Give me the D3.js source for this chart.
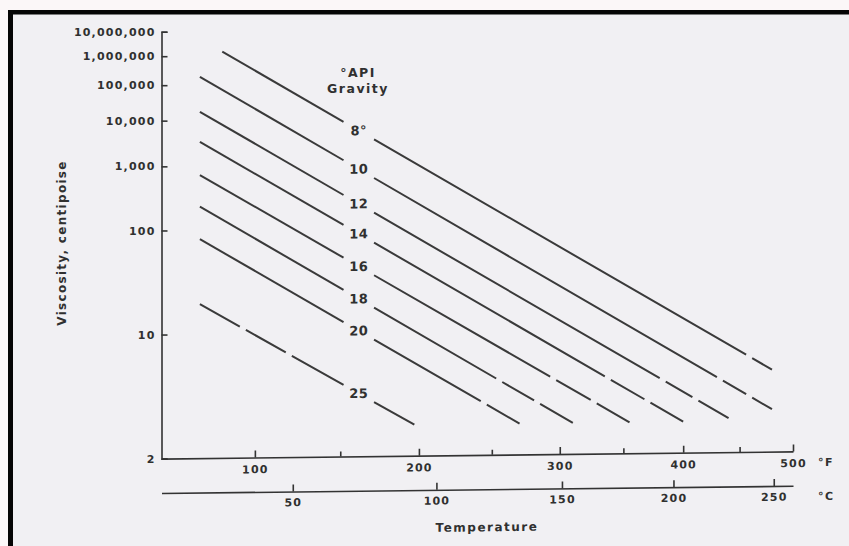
<!DOCTYPE html>
<html>
<head>
<meta charset="utf-8">
<script src="https://cdn.jsdelivr.net/npm/d3@7"></script>
<style>
  body { margin: 0; background: #fbf7f8; }
  svg { display: block; }
  text { font-family: "DejaVu Sans", sans-serif; font-weight: bold; fill: #303030; }
</style>
</head>
<body>
<svg></svg>
<script>
// API gravity lines: one straight line per gravity
const gravities = ["8°", "10", "12", "14", "16", "18", "20", "25"];
const startTempF = [82, 70, 70, 70, 70, 70, 70, 70];
const startVisc = [1400000, 180000, 16500, 3100, 680, 209, 77, 17.1];
const endTempF = [480, 480, 440, 400, 355, 310, 270, 197];
const endVisc = [5.3, 3.2, 2.9, 2.8, 2.8, 2.8, 2.8, 2.8];

// axis ticks
const viscTicks = [2, 10, 100, 1000, 10000, 100000, 1000000, 10000000];
const tempTicksF = [100, 150, 200, 250, 300, 350, 400, 450, 500];
const tempTicksC = [50, 100, 150, 200, 250];

// where the lines break for their labels (deg F)
const labelGapF = [152, 171];

const width = 849;
const height = 546;

const svg = d3.select('svg')
  .attr('width', width)
  .attr('height', height);

// scanned page + black frame
svg.append('rect')
  .attr('x', 13).attr('y', 14)
  .attr('width', width - 13).attr('height', height - 14)
  .attr('fill', '#f1f0f3');
svg.append('rect')
  .attr('x', 8).attr('y', 10)
  .attr('width', width - 8).attr('height', 4.5)
  .attr('fill', '#050505');
svg.append('rect')
  .attr('x', 8).attr('y', 10)
  .attr('width', 5).attr('height', height - 10)
  .attr('fill', '#050505');

// viscosity on a log-log scale, temperature on log absolute temperature
const loglog = v => Math.log10(Math.log10(v + 1));
const toR = f => f + 460;
const cToR = c => (c + 273.15) * 1.8;

const y = d3.scaleLinear()
  .domain([loglog(2), loglog(1e7)])
  .range([458.6, 31.7]);

const x = d3.scaleLog()
  .domain([toR(50), toR(500)])
  .range([161.5, 793]);

// the scan is slightly sheared
const plot = svg.append('g')
  .attr('transform', 'translate(160,0) skewY(-0.65) translate(-160,0)');

// y axis
const yAxis = svg.append('g')
  .attr('transform', `translate(${x(toR(50))},0)`)
  .call(d3.axisLeft(y)
    .tickValues(viscTicks.map(loglog))
    .tickFormat((d, i) => d3.format(',')(viscTicks[i]))
    .tickSizeInner(-6)
    .tickSizeOuter(-6)
    .tickPadding(6));

// F axis
const fAxis = plot.append('g')
  .attr('transform', `translate(0,${y(loglog(2))})`)
  .call(d3.axisBottom(x)
    .tickValues(tempTicksF.map(toR))
    .tickFormat(d => (d - 460) % 100 ? '' : d - 460)
    .tickSizeInner(-7)
    .tickSizeOuter(0)
    .tickPadding(8));

fAxis.selectAll('.tick')
  .filter(d => (d - 460) % 100)
  .select('line')
  .attr('y2', -5);

// C axis
const cAxis = plot.append('g')
  .attr('transform', `translate(0,493)`)
  .call(d3.axisBottom(x)
    .tickValues(tempTicksC.map(cToR))
    .tickFormat(d => Math.round(d / 1.8 - 273.15))
    .tickSizeInner(-7)
    .tickSizeOuter(0)
    .tickPadding(7));

[yAxis, fAxis, cAxis].forEach(g => {
  g.attr('color', '#333')
    .attr('font-family', null)
    .attr('font-size', null);
  g.selectAll('path, line').attr('stroke-width', 1.6);
  g.selectAll('text')
    .style('font-size', '11px')
    .style('letter-spacing', '1.2px');
});

// lines
const dashGap = 7;
const headDashes = [[], [], [], [], [], [], [], [46, 46]];
const tailDashes = [[23], [27, 23], [31, 35], [39, 38], [40, 38], [37, 38], [38], []];

function dashArray(len, head, tail) {
  if (!head.length && !tail.length) return null;
  const used = d3.sum(head) + d3.sum(tail) + dashGap * (head.length + tail.length);
  const parts = [];
  head.forEach(d => parts.push(d, dashGap));
  parts.push(len - used);
  tail.forEach(d => parts.push(dashGap, d));
  parts.push(1000);
  return parts.join(',');
}

const line = d3.line();
const lineGroup = plot.append('g');
const labelGroup = plot.append('g');

gravities.forEach((g, i) => {
  const p0 = [x(toR(startTempF[i])), y(loglog(startVisc[i]))];
  const p1 = [x(toR(endTempF[i])), y(loglog(endVisc[i]))];
  const at = xx => [xx, p0[1] + (xx - p0[0]) * (p1[1] - p0[1]) / (p1[0] - p0[0])];

  const xa = x(toR(labelGapF[0]));
  const xb = x(toR(labelGapF[1]));
  const segA = [p0, at(xa)];
  const segB = [at(xb), p1];

  const len = s => Math.hypot(s[1][0] - s[0][0], s[1][1] - s[0][1]);

  lineGroup.append('path')
    .attr('d', line(segA))
    .attr('fill', 'none')
    .attr('stroke', '#3a3a3a')
    .attr('stroke-width', 2)
    .attr('stroke-dasharray', dashArray(len(segA), headDashes[i], []));

  lineGroup.append('path')
    .attr('d', line(segB))
    .attr('fill', 'none')
    .attr('stroke', '#3a3a3a')
    .attr('stroke-width', 2)
    .attr('stroke-dasharray', dashArray(len(segB), [], tailDashes[i]));

  const lp = at((xa + xb) / 2);
  labelGroup.append('text')
    .attr('x', lp[0])
    .attr('y', lp[1])
    .attr('text-anchor', 'middle')
    .attr('dominant-baseline', 'central')
    .style('font-size', '13px')
    .style('letter-spacing', '0.5px')
    .text(g);
});

// titles
svg.append('text')
  .attr('x', 358).attr('y', 72)
  .attr('text-anchor', 'middle')
  .attr('dominant-baseline', 'central')
  .style('font-size', '12.5px')
  .style('letter-spacing', '1.5px')
  .text('°API');

svg.append('text')
  .attr('x', 358).attr('y', 88)
  .attr('text-anchor', 'middle')
  .attr('dominant-baseline', 'central')
  .style('font-size', '12.5px')
  .style('letter-spacing', '1.5px')
  .text('Gravity');

svg.append('text')
  .attr('transform', 'translate(62,243) rotate(-90)')
  .attr('text-anchor', 'middle')
  .attr('dominant-baseline', 'central')
  .style('font-size', '12px')
  .style('letter-spacing', '1.3px')
  .text('Viscosity, centipoise');

plot.append('text')
  .attr('x', 818).attr('y', 470)
  .attr('dominant-baseline', 'central')
  .style('font-size', '11px')
  .style('letter-spacing', '1.5px')
  .text('°F');

plot.append('text')
  .attr('x', 818).attr('y', 504)
  .attr('dominant-baseline', 'central')
  .style('font-size', '11px')
  .style('letter-spacing', '1.5px')
  .text('°C');

plot.append('text')
  .attr('x', 487).attr('y', 531)
  .attr('text-anchor', 'middle')
  .attr('dominant-baseline', 'central')
  .style('font-size', '12px')
  .style('letter-spacing', '1.5px')
  .text('Temperature');
</script>
</body>
</html>
